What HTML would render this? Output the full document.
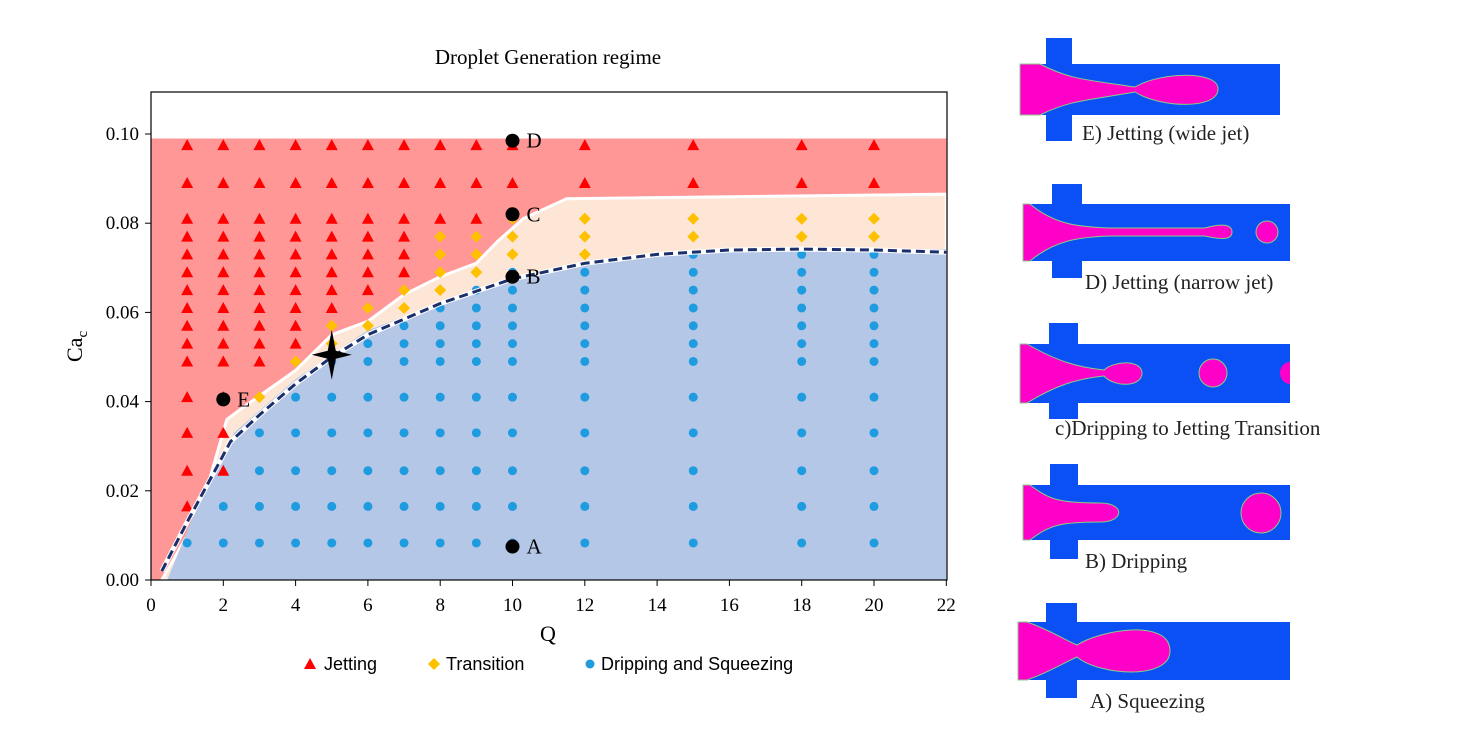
<!DOCTYPE html>
<html><head><meta charset="utf-8"><style>
html,body{margin:0;padding:0;background:#fff;}
svg{display:block;font-family:"Liberation Serif",serif;}
</style></head><body>
<svg id="s" width="1462" height="732" viewBox="0 0 1462 732">
<g id="chart"></g>
<g id="panels"></g>
</svg>
<script>
const NS="http://www.w3.org/2000/svg";
// ---- data ----
const qValues=[1,2,3,4,5,6,7,8,9,10,12,15,18,20];
const caLevels=[0.0975,0.089,0.081,0.077,0.073,0.069,0.065,0.061,0.057,0.053,0.049,0.041,0.033,0.0245,0.0165,0.0083];
// number of top levels that are jetting / transition for each Q (rest dripping)
const jetCount=[15,14,11,10,8,7,6,3,3,2,2,2,2,2];
const transCount=[0,0,1,1,2,2,2,4,3,3,3,2,2,2];
const xTicks=[0,2,4,6,8,10,12,14,16,18,20,22];
const yTicks=[0,0.02,0.04,0.06,0.08,0.10];
const boundaryLower=[[0.3,0.002],[1,0.013],[2.2,0.031],[3,0.037],[4,0.044],[5,0.05],[6,0.055],[8,0.062],[10,0.0675],[12,0.071],[14,0.073],[16,0.074],[18,0.0742],[20,0.074],[22,0.0735]];
const boundaryUpper=[[0.3,0],[1,0.01],[1.6,0.022],[2.1,0.036],[2.6,0.039],[4,0.047],[5,0.055],[6,0.058],[7,0.064],[8,0.068],[9,0.071],[9.6,0.076],[10.3,0.081],[11.5,0.0855],[22,0.0865]];
const special=[["A",10,0.0075],["B",10,0.068],["C",10,0.082],["D",10,0.0985],["E",2,0.0405]];
// ---- axes ----
const X=v=>151+v*36.15, Y=v=>580-v*4460;
const chart=document.getElementById('chart');
function el(tag,attrs,parent){const e=document.createElementNS(NS,tag);for(const k in attrs)e.setAttribute(k,attrs[k]);(parent||chart).appendChild(e);return e;}
const pts=a=>a.map(p=>X(p[0]).toFixed(1)+","+Y(p[1]).toFixed(1)).join(" ");
// regions
let r=el('polygon',{points:pts([[0,0.099],[22,0.099],...boundaryUpper.slice().reverse(),[0,0]]),fill:'#ff9797'});


r=el('polygon',{points:pts([...boundaryUpper,[22,0]]),fill:'#fde6d5',stroke:'#fff','stroke-width':3});


r=el('polygon',{points:pts([[0.45,0],[1.1,0.013],[2.3,0.033],[4,0.045],[6,0.056],[10,0.068],[12,0.071],[16,0.0745],[22,0.0742],[22,0]]),fill:'#b4c7e7'});


// axes
r=el('rect',{x:151,y:92,width:796,height:488,fill:'none',stroke:'#000','stroke-width':1.2});


xTicks.forEach(t=>{el('line',{x1:X(t),x2:X(t),y1:580,y2:586,stroke:'#000'});
 const tx=el('text',{x:X(t),y:611,'text-anchor':'middle','font-size':19});tx.textContent=t;
 
 });
yTicks.forEach(t=>{el('line',{x1:145,x2:151,y1:Y(t),y2:Y(t),stroke:'#000'});
 const tx=el('text',{x:139,y:Y(t)+6,'text-anchor':'end','font-size':19});tx.textContent=t.toFixed(2);
 
 });
// markers
function tri(x,y,c){return el('polygon',{points:`${x},${y-6} ${x-6},${y+5} ${x+6},${y+5}`,fill:c});}
function dia(x,y){return el('polygon',{points:`${x},${y-6} ${x+6},${y} ${x},${y+6} ${x-6},${y}`,fill:'#ffc000'});}
function dot(x,y){return el('circle',{cx:x,cy:y,r:4.5,fill:'#1f9be0'});}
qValues.forEach((q,i)=>{caLevels.forEach((c,j)=>{
 const x=X(q),y=Y(c);let m;
 if(j<jetCount[i]) {m=tri(x,y,'#ff0000');}
 else if(j<jetCount[i]+transCount[i]) {m=dia(x,y);}
 else {m=dot(x,y);}
 
});});
// dashed boundary
r=el('polyline',{points:pts(boundaryLower),fill:'none',stroke:'#fff','stroke-width':5});


r=el('polyline',{points:pts(boundaryLower),fill:'none',stroke:'#1b2f6b','stroke-width':3,'stroke-dasharray':'9,5'});


// star
{const sx=X(5),sy=Y(0.0505);
 r=el('path',{d:`M${sx},${sy-25} L${sx+4},${sy-4} L${sx+20},${sy} L${sx+4},${sy+4} L${sx},${sy+25} L${sx-4},${sy+4} L${sx-20},${sy} L${sx-4},${sy-4}Z`,fill:'#000'});
 
 }
special.forEach(s=>{const x=X(s[1]),y=Y(s[2]);
 const c=el('circle',{cx:x,cy:y,r:7,fill:'#000'});
 
 
 const t=el('text',{x:x+14,y:y+7,'font-size':21});t.textContent=s[0];
 
 });
</script>
<svg width="1462" height="732" style="position:absolute;left:0;top:0">
<text x="548" y="64" text-anchor="middle" font-size="21" font-family="Liberation Serif,serif">Droplet Generation regime</text>
<text x="548" y="641" text-anchor="middle" font-size="22" font-family="Liberation Serif,serif">Q</text>
<text transform="translate(82,362) rotate(-90)" font-size="22" font-family="Liberation Serif,serif">Ca<tspan font-size="15" dy="5">c</tspan></text>
<g font-family="Liberation Sans,sans-serif" font-size="18">
<polygon points="310,658 304,669 316,669" fill="#ff0000"/>
<text x="324" y="670">Jetting</text>
<polygon points="434,658 440,664 434,670 428,664" fill="#ffc000"/>
<text x="446" y="670">Transition</text>
<circle cx="590" cy="664" r="4.5" fill="#1f9be0"/>
<text x="601" y="670">Dripping and Squeezing</text>
</g>
<g font-family="Liberation Serif,serif" font-size="21" fill="#222">
<g>
<rect x="1046" y="38" width="26" height="103" fill="#0a50f5"/><rect x="1020" y="64" width="260" height="51" fill="#0a50f5"/>
<path d="M1020,64 L1040,64 C1070,80 1090,80 1135,87 C1160,72 1218,70 1218,89 C1218,110 1160,108 1135,92 C1090,100 1070,100 1040,115 L1020,115Z" fill="#ff00c8" stroke="#8c8" stroke-width="1"/>
<text x="1082" y="140">E) Jetting (wide jet)</text></g>
<g>
<rect x="1052" y="184" width="30" height="94" fill="#0a50f5"/><rect x="1023" y="204" width="267" height="57" fill="#0a50f5"/>
<path d="M1023,204 L1030,204 C1055,225 1080,227 1110,228 L1205,228 C1215,225 1232,222 1232,232 C1232,242 1215,238 1205,236 L1110,236 C1080,237 1055,240 1030,261 L1023,261Z" fill="#ff00c8" stroke="#8c8" stroke-width="1"/>
<circle cx="1267" cy="232" r="11" fill="#ff00c8" stroke="#8c8"/>
<text x="1085" y="289">D) Jetting (narrow jet)</text></g>
<g>
<rect x="1049" y="323" width="29" height="96" fill="#0a50f5"/><rect x="1020" y="344" width="270" height="59" fill="#0a50f5"/>
<path d="M1020,344 L1027,344 C1055,360 1075,367 1104,370 C1115,360 1142,360 1142,373 C1142,387 1115,388 1104,376 C1075,379 1055,386 1027,403 L1020,403Z" fill="#ff00c8" stroke="#8c8" stroke-width="1"/>
<circle cx="1213" cy="373" r="14" fill="#ff00c8" stroke="#8c8"/>
<path d="M1290,362 A10,11 0 0 0 1290,384Z" fill="#ff00c8"/>
<text x="1055" y="435">c)Dripping to Jetting Transition</text></g>
<g>
<rect x="1050" y="464" width="28" height="95" fill="#0a50f5"/><rect x="1023" y="485" width="267" height="55" fill="#0a50f5"/>
<path d="M1023,485 L1030,485 C1050,500 1060,503 1100,503 C1125,503 1125,522 1100,522 C1060,522 1050,525 1030,540 L1023,540Z" fill="#ff00c8" stroke="#8c8" stroke-width="1"/>
<circle cx="1261" cy="513" r="20" fill="#ff00c8" stroke="#8c8"/>
<text x="1085" y="568">B) Dripping</text></g>
<g>
<rect x="1046" y="603" width="31" height="95" fill="#0a50f5"/><rect x="1018" y="622" width="272" height="58" fill="#0a50f5"/>
<path d="M1018,622 L1027,622 C1050,630 1065,640 1077,645 C1100,630 1170,618 1170,651 C1170,680 1100,676 1077,657 C1065,662 1050,672 1027,680 L1018,680Z" fill="#ff00c8" stroke="#8c8" stroke-width="1"/>
<text x="1090" y="708">A) Squeezing</text></g>
</g>
</svg>
</body></html>
